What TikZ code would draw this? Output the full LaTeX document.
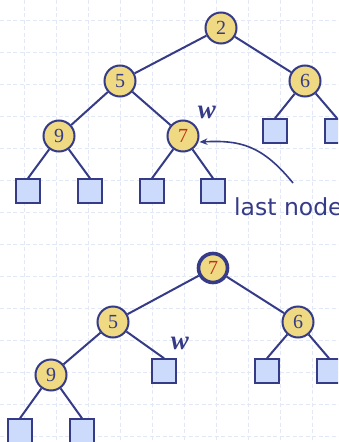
\documentclass[tikz,border=0pt]{standalone}
\usepackage{fontspec}
\setmainfont{Liberation Serif}
\newfontfamily\labelfont{DejaVu Sans}
\usetikzlibrary{arrows.meta}
\definecolor{edgeblue}{HTML}{363B88}
\definecolor{nodeyellow}{HTML}{EFD982}
\definecolor{leafblue}{HTML}{CCDAFB}
\definecolor{gridblue}{HTML}{E2E8F6}
\definecolor{keyred}{HTML}{C0301A}
\tikzset{
  inner/.style={circle, draw=edgeblue, line width=2pt, fill=nodeyellow, minimum size=31pt, inner sep=0pt, font=\fontsize{20}{20}\selectfont, text=edgeblue},
  rootbold/.style={inner, line width=3.6pt, minimum size=29pt},
  leaf/.style={rectangle, draw=edgeblue, line width=2pt, fill=leafblue, minimum size=23.5pt, inner sep=0pt},
  treeedge/.style={draw=edgeblue, line width=2pt},
  wlabel/.style={font=\fontsize{27}{27}\selectfont\bfseries\itshape, text=edgeblue, inner sep=0pt},
  gridline/.style={draw=gridblue, line width=0.9pt, dash pattern=on 4pt off 2.5pt}
}
\begin{document}
\begin{tikzpicture}[x=1pt,y=-1pt]
\useasboundingbox (0,0) rectangle (338,442);
\clip (0,0) rectangle (338,442);
\fill[white] (0,0) rectangle (338,442);
% grid
\foreach \gx in {24,56,...,344} \draw[gridline] (\gx,0) -- (\gx,442);
\foreach \gy in {20,52,...,440} \draw[gridline] (0,\gy) -- (338,\gy);

% top tree
\node[inner] (a2) at (221,28) {2};
\node[inner] (a5) at (120,81) {5};
\node[inner] (a6) at (305,81) {6};
\node[inner] (a9) at (59,136) {9};
\node[inner, text=keyred] (a7) at (183,136) {7};
\node[leaf] (l1) at (28,191) {};
\node[leaf] (l2) at (90,191) {};
\node[leaf] (l3) at (152,191) {};
\node[leaf] (l4) at (213,191) {};
\node[leaf] (l5) at (275,131) {};
\node[leaf] (l6) at (337,131) {};
\path[treeedge] (a2) -- (a5);
\path[treeedge] (a2) -- (a6);
\path[treeedge] (a5) -- (a9);
\path[treeedge] (a5) -- (a7);
\path[treeedge] (a9) -- (l1.north);
\path[treeedge] (a9) -- (l2.north);
\path[treeedge] (a7) -- (l3.north);
\path[treeedge] (a7) -- (l4.north);
\path[treeedge] (a6) -- (l5.north);
\path[treeedge] (a6) -- (l6.north);
\node[wlabel] (w1) at (207,112) {w};
\node[font=\labelfont\fontsize{23.5}{23.5}\selectfont, text=edgeblue, anchor=base west, inner sep=0pt] (last) at (234,215) {last node};
\coordinate (arrstart) at (293,183);
\draw[edgeblue, line width=1.6pt, -{Stealth[length=8pt,width=6.5pt]}] (arrstart) .. controls (262,145) and (240,140) .. (a7.east |- 0,142);

% bottom tree
\node[rootbold, text=keyred] (b7) at (213,268) {7};
\node[inner] (b5) at (113,322) {5};
\node[inner] (b6) at (298,322) {6};
\node[inner] (b9) at (51,375) {9};
\node[leaf] (m1) at (164,371) {};
\node[leaf] (m2) at (267,371) {};
\node[leaf] (m3) at (329,371) {};
\node[leaf] (m4) at (20,431) {};
\node[leaf] (m5) at (82,431) {};
\path[treeedge] (b7) -- (b5);
\path[treeedge] (b7) -- (b6);
\path[treeedge] (b5) -- (b9);
\path[treeedge] (b5) -- (m1.north);
\path[treeedge] (b6) -- (m2.north);
\path[treeedge] (b6) -- (m3.north);
\path[treeedge] (b9) -- (m4.north);
\path[treeedge] (b9) -- (m5.north);
\node[wlabel] (w2) at (180,343) {w};
\end{tikzpicture}
\end{document}
